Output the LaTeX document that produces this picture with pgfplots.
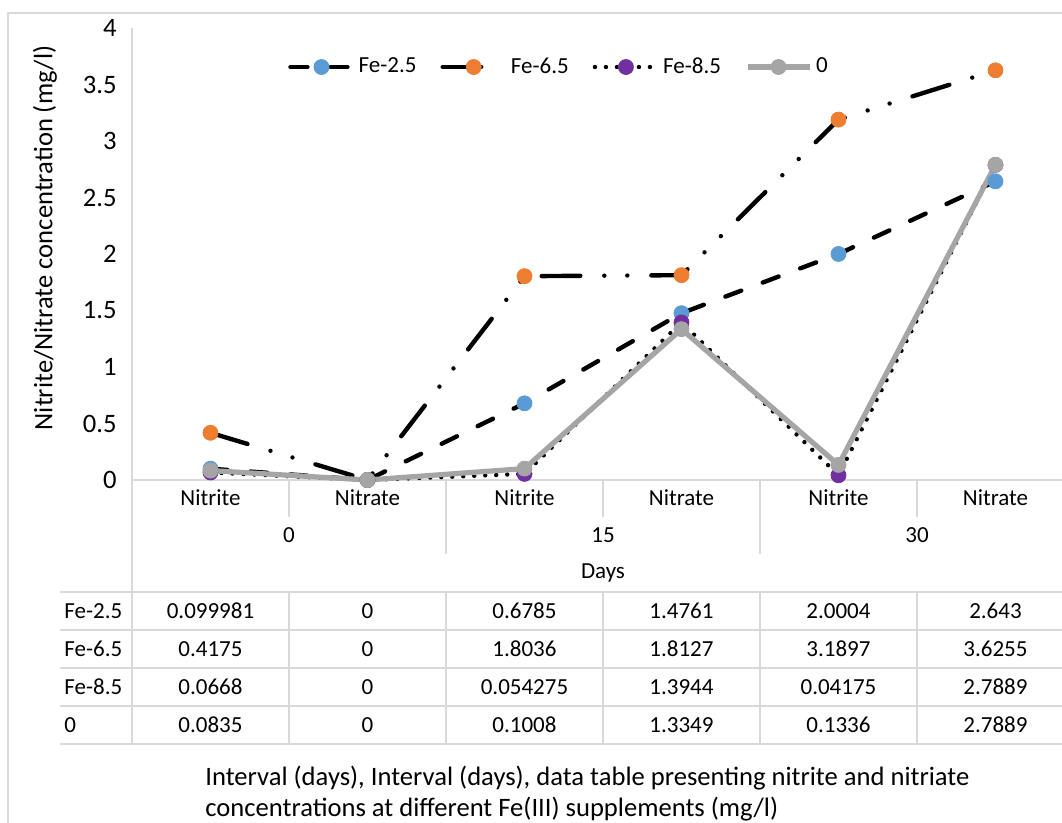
\documentclass[border=0pt]{standalone}
\usepackage{pgfplots}
\pgfplotsset{compat=1.18}
\usepackage{fontspec}
\setmainfont{Carlito}
\definecolor{cblue}{HTML}{5B9BD5}
\definecolor{corange}{HTML}{ED7D31}
\definecolor{cpurple}{HTML}{7030A0}
\definecolor{cgray}{HTML}{A5A5A5}
\definecolor{cline}{HTML}{D9D9D9}
\newcommand{\cf}{\fontsize{11.5}{14}\selectfont}
\newcommand{\lf}{\fontsize{13.3}{16}\selectfont}
\begin{document}
\begin{tikzpicture}
\begin{axis}[
  at={(66pt,-240pt)}, anchor=south west,
  scale only axis, width=471pt, height=226pt,
  xmin=-0.5, xmax=5.5, ymin=0, ymax=4,
  clip=false,
  axis x line*=bottom, axis y line*=left,
  axis line style={cline, line width=0.8pt, -},
  xtick={0,1,2,3,4,5},
  xticklabels={Nitrite,Nitrate,Nitrite,Nitrate,Nitrite,Nitrate},
  ytick={0,0.5,...,4},
  major tick length=0pt,
  /pgf/number format/assume math mode=true,
  tick label style={font=\cf, text=black},
  xticklabel style={anchor=center, yshift=-9pt},
  yticklabel style={anchor=east, inner sep=0pt, xshift=-7.5pt, font=\lf},
  legend style={at={(0.4544,0.9137)}, anchor=center, draw=none, fill=none,
    font=\cf, legend columns=4,
    /tikz/every even column/.append style={column sep=10pt}},
  legend image code/.code={\draw[mark repeat=2,mark phase=2,#1] plot coordinates {(0pt,0pt) (15.5pt,0pt) (31pt,0pt)};},
  every axis plot/.append style={line width=2.2pt, line join=round},
]
\addplot[black, line cap=round, dash pattern=on 8.5pt off 11.5pt,
  mark=*, mark size=3.75pt, mark options={solid, fill=cblue, draw=cblue, line width=0.4pt}]
  coordinates {(0,0.099981) (1,0) (2,0.6785) (3,1.4761) (4,2.0004) (5,2.643)};
\addlegendentry{Fe-2.5}
\addplot[black, line cap=round, dash pattern=on 19.3pt off 12pt on 0pt off 11.5pt on 0pt off 12pt,
  mark=*, mark size=3.75pt, mark options={solid, fill=corange, draw=corange, line width=0.4pt}]
  coordinates {(0,0.4175) (1,0) (2,1.8036) (3,1.8127) (4,3.1897) (5,3.6255)};
\addlegendentry{Fe-6.5}
\addplot[black, line cap=round, dash pattern=on 0pt off 5.5pt,
  mark=*, mark size=3.75pt, mark options={solid, fill=cpurple, draw=cpurple, line width=0.4pt}]
  coordinates {(0,0.0668) (1,0) (2,0.054275) (3,1.3944) (4,0.04175) (5,2.7889)};
\addlegendentry{Fe-8.5}
\addplot[cgray, line width=2.6pt, solid,
  mark=*, mark size=3.75pt, mark options={solid, fill=cgray, draw=cgray, line width=0.4pt}]
  coordinates {(0,0.0835) (1,0) (2,0.1008) (3,1.3349) (4,0.1336) (5,2.7889)};
\addlegendentry{0}
\end{axis}
\begin{scope}[x=0.5pt, y=-0.5pt, font=\cf]
  % chart border
  \draw[cline, line width=0.8pt] (8,823) -- (8,13) -- (1062,13);
  % y label
  \node[rotate=90, font=\lf] at (45,238) {Nitrite/Nitrate concentration (mg/l)};
  % category separators
  \draw[cline, line width=0.9pt] (132,480) -- (132,744);
  \foreach \x in {289,603,917} \draw[cline, line width=0.9pt] (\x,480) -- (\x,517) (\x,592) -- (\x,744);
  \foreach \x in {446,760} \draw[cline, line width=0.9pt] (\x,480) -- (\x,554) (\x,592) -- (\x,744);
  \draw[cline, line width=0.9pt] (1074,480) -- (1074,744);
  \node at (289,535) {0};
  \node at (603,535) {15};
  \node at (917,535) {30};
  \node at (603,573) {Days};
  % table lines
  \foreach \y in {592,630,668,706,744} \draw[cline, line width=0.9pt] (60,\y) -- (1062,\y);
  % row headers
  \node[anchor=west, inner sep=0pt] at (64,611) {Fe-2.5};
  \node[anchor=west, inner sep=0pt] at (64,649) {Fe-6.5};
  \node[anchor=west, inner sep=0pt] at (64,687) {Fe-8.5};
  \node[anchor=west, inner sep=0pt] at (64,725) {0};
  % cells
  \foreach \v [count=\i from 0] in {0.099981,0,0.6785,1.4761,2.0004,2.643}
    \node at (210.5+157*\i,611) {\v};
  \foreach \v [count=\i from 0] in {0.4175,0,1.8036,1.8127,3.1897,3.6255}
    \node at (210.5+157*\i,649) {\v};
  \foreach \v [count=\i from 0] in {0.0668,0,0.054275,1.3944,0.04175,2.7889}
    \node at (210.5+157*\i,687) {\v};
  \foreach \v [count=\i from 0] in {0.0835,0,0.1008,1.3349,0.1336,2.7889}
    \node at (210.5+157*\i,725) {\v};
  % caption
  \node[anchor=west, inner sep=0pt, font=\lf] at (205,778) {Interval (days), Interval (days), data table presenting nitrite and nitriate};
  \node[anchor=west, inner sep=0pt, font=\lf] at (205,809) {concentrations at different Fe(III) supplements (mg/l)};
  \pgfresetboundingbox
  \useasboundingbox (0,0) rectangle (1062,823);
\end{scope}
\end{tikzpicture}
\end{document}
